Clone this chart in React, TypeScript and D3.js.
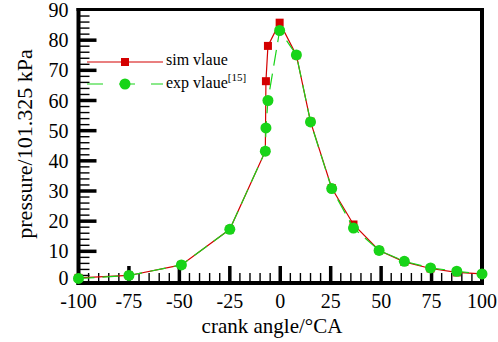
import React from "react";
import * as d3 from "d3";

// Crank angle (°CA) and cylinder pressure (×101.325 kPa)
const simAngle = [-100, -75, -49, -25, -7.4, -7.1, -6.1, -0.3, 8, 15, 25.5, 36.3, 49, 61.5, 74.5, 87.5, 100];
const simPressure = [1.2, 2.0, 5.5, 17.3, 43.2, 66.4, 78.1, 85.8, 75.0, 53.0, 31.0, 18.9, 10.3, 6.5, 4.3, 3.0, 2.5];

const expAngle = [-100, -75, -49, -25, -7.4, -7.1, -6.1, -0.3, 8, 15, 25.5, 36.3, 49, 61.5, 74.5, 87.5, 100];
const expPressure = [1.0, 2.0, 5.5, 17.3, 43.2, 50.9, 60.0, 83.2, 75.1, 52.9, 30.8, 17.7, 10.3, 6.7, 4.5, 3.4, 2.5];

const xTicks = [-100, -75, -50, -25, 0, 25, 50, 75, 100];
const yTicks = [0, 10, 20, 30, 40, 50, 60, 70, 80, 90];

const W = 498;
const H = 342;
const RED = "#d40000";
const GREEN = "#18d418";
const FONT = "'Liberation Serif', 'Times New Roman', serif";

export default function App() {
  const x = d3.scaleLinear().domain([-100, 100]).range([78.5, 482]);
  const y = d3.scaleLinear().domain([0, 90]).range([281.5, 10]);

  const line = d3
    .line<[number, number]>()
    .x((d) => x(d[0]))
    .y((d) => y(d[1]));

  const simPts: [number, number][] = simAngle.map((a, i) => [a, simPressure[i]]);
  const expPts: [number, number][] = expAngle.map((a, i) => [a, expPressure[i]]);

  const xMinor = d3.range(-95, 100, 5).filter((v) => v % 25 !== 0);
  const yMinor = d3.range(2, 90, 2).filter((v) => v % 10 !== 0);
  const xMajor = xTicks.filter((v) => v > -100 && v < 100);
  const yMajor = yTicks.filter((v) => v > 0 && v < 90);

  const left = x(-100);
  const right = x(100);
  const bottom = 283;
  const top = y(90);

  return (
    <svg
      width={W}
      height={H}
      style={{ position: "absolute", left: 0, top: 0, background: "#fff" }}
      fontFamily={FONT}
    >
      <rect width={W} height={H} fill="#fff" />

      {/* minor ticks */}
      {xMinor.map((v) => (
        <line key={"xm" + v} x1={x(v)} x2={x(v)} y1={bottom} y2={bottom - 10} stroke="#000" strokeWidth={1.4} />
      ))}
      {yMinor.map((v) => (
        <line key={"ym" + v} x1={left} x2={left + 11} y1={y(v)} y2={y(v)} stroke="#000" strokeWidth={1.4} />
      ))}
      {/* major ticks */}
      {xMajor.map((v) => (
        <line key={"xM" + v} x1={x(v)} x2={x(v)} y1={bottom} y2={bottom - 17} stroke="#000" strokeWidth={3.5} />
      ))}
      {yMajor.map((v) => (
        <line key={"yM" + v} x1={left} x2={left + 18} y1={y(v)} y2={y(v)} stroke="#000" strokeWidth={3.5} />
      ))}

      {/* frame */}
      <line x1={left - 2} x2={right + 2} y1={top - 0.5} y2={top - 0.5} stroke="#000" strokeWidth={3} />
      <line x1={right} x2={right} y1={top - 2} y2={bottom + 2} stroke="#000" strokeWidth={4} />
      <line x1={left} x2={left} y1={top - 2} y2={bottom + 2} stroke="#000" strokeWidth={4} />
      <line x1={left - 2} x2={right + 2} y1={bottom} y2={bottom} stroke="#000" strokeWidth={4} />

      {/* tick labels */}
      {xTicks.map((v) => (
        <text key={"xl" + v} x={x(v)} y={307.5} textAnchor="middle" fontSize={20} fill="#000">
          {v}
        </text>
      ))}
      {yTicks.map((v) => (
        <text
          key={"yl" + v}
          x={68.5}
          y={v === 0 ? y(v) + 3 : y(v) + 7}
          textAnchor="end"
          fontSize={20}
          fill="#000"
        >
          {v}
        </text>
      ))}

      {/* axis titles */}
      <text x={272} y={333} textAnchor="middle" fontSize={21} fill="#000">
        crank angle/°CA
      </text>
      <text
        transform={`translate(32,144) rotate(-90)`}
        textAnchor="middle"
        fontSize={22}
        fill="#000"
      >
        pressure/101.325 kPa
      </text>

      {/* simulated curve */}
      <path d={line(simPts) ?? ""} fill="none" stroke={RED} strokeWidth={1.2} />
      {simPts.map((d, i) => (
        <rect key={"s" + i} x={x(d[0]) - 4} y={y(d[1]) - 4} width={8} height={8} fill={RED} />
      ))}

      {/* experimental curve */}
      <path d={line(expPts) ?? ""} fill="none" stroke={GREEN} strokeWidth={1.2} strokeDasharray="16 8" />
      {expPts.map((d, i) => (
        <circle key={"e" + i} cx={x(d[0])} cy={y(d[1])} r={5.5} fill={GREEN} />
      ))}

      {/* legend */}
      <line x1={87} x2={163} y1={62} y2={62} stroke={RED} strokeWidth={1.2} />
      <rect x={121} y={58} width={8} height={8} fill={RED} />
      <text x={166} y={65} fontSize={16} fill="#000">sim vlaue</text>

      <line x1={87} x2={163} y1={84} y2={84} stroke={GREEN} strokeWidth={1.2} strokeDasharray="16 16" />
      <circle cx={125} cy={84} r={5.5} fill={GREEN} />
      <text x={166} y={88} fontSize={16} fill="#000">
        exp vlaue
        <tspan fontSize={11} dy={-7}>[15]</tspan>
      </text>
    </svg>
  );
}
